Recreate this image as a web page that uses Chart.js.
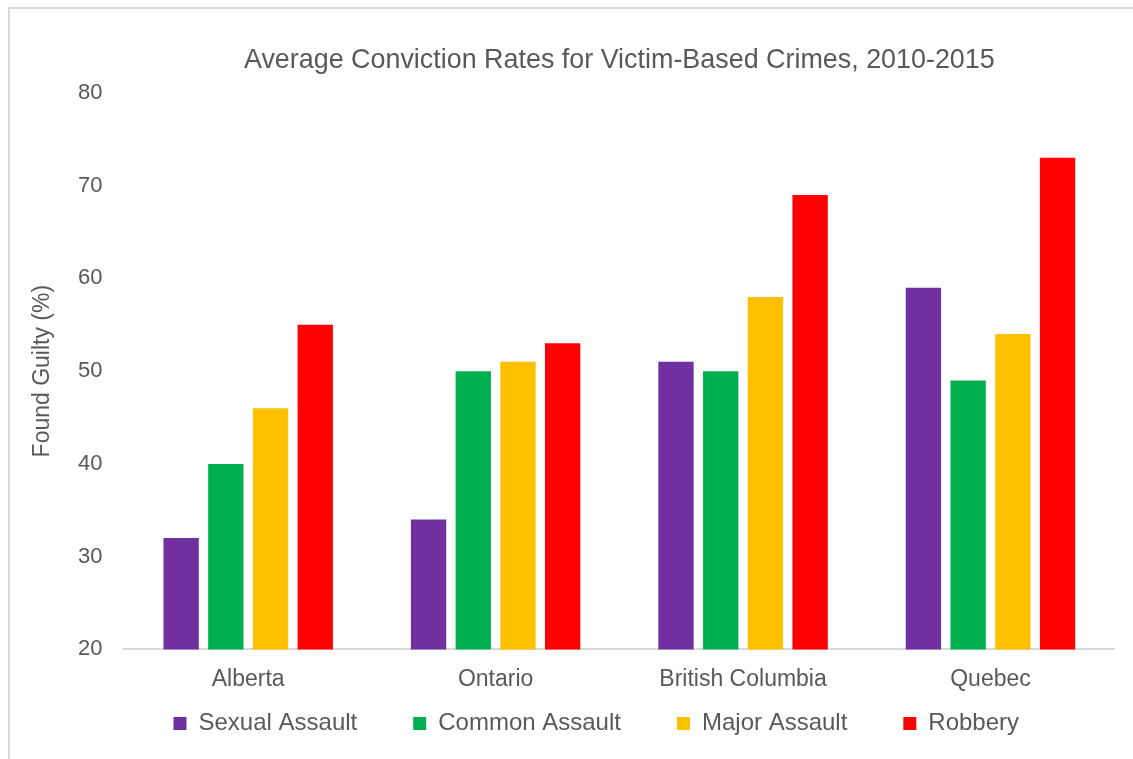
<!DOCTYPE html>
<html>
<head>
<meta charset="utf-8">
<script src="https://cdn.jsdelivr.net/npm/chart.js@4/dist/chart.umd.min.js"></script>
<style>
html,body{margin:0;padding:0;background:#fff;}
#wrap{position:relative;width:1133px;height:759px;}
</style>
</head>
<body>
<div id="wrap"><canvas id="c" width="1133" height="759"></canvas></div>
<script>
const categories = ["Alberta", "Ontario", "British Columbia", "Quebec"];
const sexualAssault = [32, 34, 51, 59];
const commonAssault = [40, 50, 50, 49];
const majorAssault = [46, 51, 58, 54];
const robbery = [55, 53, 69, 73];
const yTicks = [20, 30, 40, 50, 60, 70, 80];

const FONT = '"Liberation Sans", Arial, Helvetica, sans-serif';
const TXT = '#595959';

const framePlugin = {
  id: 'frame',
  beforeDraw(chart) {
    const ctx = chart.ctx;
    ctx.save();
    ctx.fillStyle = '#fff';
    ctx.fillRect(0, 0, chart.width, chart.height);
    ctx.strokeStyle = '#d9d9d9';
    ctx.lineWidth = 2;
    ctx.strokeRect(9, 8, 1200, 800);
    ctx.restore();
  },
  afterLayout(chart) {
    const lg = chart.legend;
    if (lg) {
      // pull the legend up so its items sit just under the category labels
      const top = chart.chartArea.bottom + 6;
      lg.top = top;
      lg.height = 100;
      lg.bottom = top + lg.height;
      lg.left -= 7; lg.right -= 7;
    }
  }
};

new Chart(document.getElementById('c'), {
  type: 'bar',
  data: {
    labels: categories,
    datasets: [
      { label: 'Sexual Assault', data: sexualAssault, backgroundColor: '#7030a0' },
      { label: 'Common Assault', data: commonAssault, backgroundColor: '#00b050' },
      { label: 'Major Assault', data: majorAssault, backgroundColor: '#ffc000' },
      { label: 'Robbery', data: robbery, backgroundColor: '#ff0000' }
    ]
  },
  options: {
    responsive: false,
    animation: false,
    devicePixelRatio: 1,
    layout: { padding: { left: 28.4, right: 18.8, top: 44, bottom: 13 } },
    datasets: { bar: { categoryPercentage: 0.7227, barPercentage: 0.79 } },
    plugins: {
      title: {
        display: true,
        fullSize: false,
        text: 'Average Conviction Rates for Victim-Based Crimes, 2010-2015',
        color: TXT,
        font: { family: FONT, size: 26.9, weight: 'normal' },
        padding: { top: 0, bottom: 16.6 }
      },
      legend: {
        position: 'bottom',
        fullSize: false,
        align: 'start',
        maxHeight: 45,
        labels: {
          color: TXT,
          font: { family: FONT, size: 24 },
          boxWidth: 13,
          boxHeight: 13,
          padding: 56
        }
      },
      tooltip: { enabled: false }
    },
    scales: {
      x: {
        grid: { display: false },
        border: { display: true, color: '#d9d9d9', width: 2 },
        ticks: { color: TXT, font: { family: FONT, size: 23 }, padding: 8 }
      },
      y: {
        min: 20,
        max: 80,
        afterBuildTicks(axis) { axis.ticks = yTicks.map(v => ({ value: v })); },
        grid: { display: false, drawTicks: false },
        border: { display: false },
        ticks: { color: TXT, font: { family: FONT, size: 22 }, padding: 22 },
        title: {
          display: true,
          text: 'Found Guilty (%)',
          color: TXT,
          font: { family: FONT, size: 23 },
          padding: { top: 0, bottom: 0 }
        }
      }
    }
  },
  plugins: [framePlugin]
});
</script>
</body>
</html>
